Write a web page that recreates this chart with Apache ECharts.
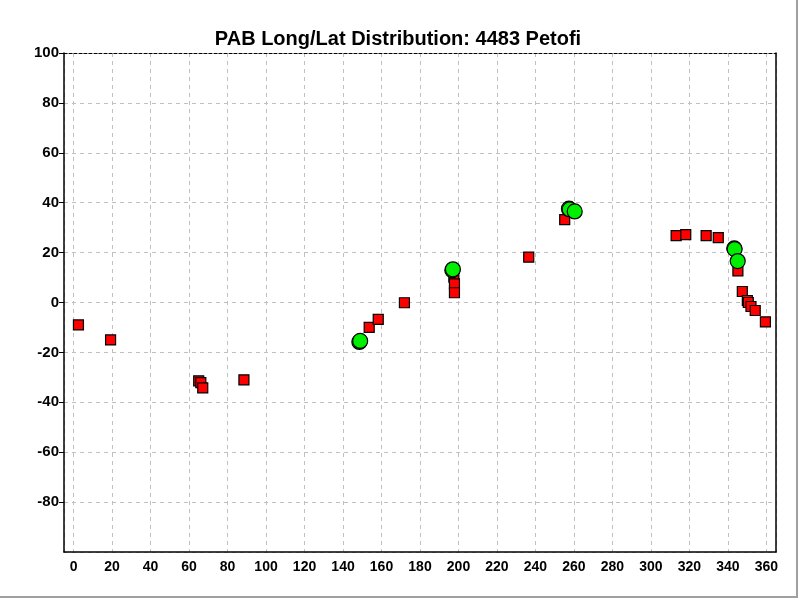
<!DOCTYPE html>
<html>
<head>
<meta charset="utf-8">
<script src="https://cdn.jsdelivr.net/npm/echarts@6/dist/echarts.min.js"></script>
<style>
html,body{margin:0;padding:0;background:#fff;}
#wrap{width:798px;height:598px;box-sizing:border-box;border-right:2px solid #a0a0a0;border-bottom:2px solid #a0a0a0;}
#chart{width:796px;height:596px;}
</style>
</head>
<body>
<div id="wrap"><div id="chart"></div></div>
<script>
const titleText = 'PAB Long/Lat Distribution: 4483 Petofi';
// Red squares: [longitude, latitude]
const redLong = [2.5, 19.2, 65.0, 66.1, 67.1, 88.5, 153.6, 158.3, 171.9, 197.6, 197.9, 197.9, 255.2, 236.5, 313.1, 318.1, 328.7, 335.0, 345.2, 347.5, 350.1, 350.6, 352.0, 354.2, 359.5];
const redLat  = [-9.0, -15.0, -31.4, -32.1, -34.2, -31.0, -10.0, -6.8, -0.1, 10.2, 7.5, 3.9, 33.2, 18.2, 26.8, 27.2, 26.8, 26.0, 12.7, 4.4, 0.8, 0.0, -1.6, -3.2, -7.8];
// Green circles: [longitude, latitude]
const greenLong = [148.5, 148.9, 196.8, 197.1, 257.4, 257.8, 260.4, 343.3, 343.5, 345.1];
const greenLat  = [-15.8, -15.4, 12.9, 13.3, 37.6, 37.3, 36.5, 21.7, 21.4, 16.6];
const yTicks = [100, 80, 60, 40, 20, 0, -20, -40, -60, -80];

const redData = redLong.map((v, i) => [v, redLat[i]]);
const greenData = greenLong.map((v, i) => [v, greenLat[i]]);

const chart = echarts.init(document.getElementById('chart'));
const fam = 'Liberation Sans, Arial, sans-serif';
chart.setOption({
  backgroundColor: '#fff',
  animation: false,
  title: {
    text: titleText, left: 'center', top: 24,
    textStyle: {fontFamily: fam, fontWeight: 'bold', fontSize: 20, color: '#000'}
  },
  grid: {left: 64, right: 20, top: 53, bottom: 44},
  xAxis: [{
    type: 'value', min: -5, max: 365, splitNumber: 18,
    axisLine: {show: true, onZero: false, lineStyle: {color: '#000', width: 1.5}},
    axisTick: {show: false},
    axisLabel: {showMinLabel: false, showMaxLabel: false, margin: 8,
      fontFamily: fam, fontWeight: 'bold', fontSize: 14, color: '#000'},
    splitLine: {show: true, lineStyle: {color: '#c0c0c0', type: [4, 4], width: 1}}
  }, {
    type: 'value', min: -5, max: 365, position: 'top',
    axisLine: {show: true, onZero: false, lineStyle: {color: '#000', type: [3, 2], width: 1}},
    axisTick: {show: false}, axisLabel: {show: false}, splitLine: {show: false}
  }],
  yAxis: [{
    type: 'value', min: -100, max: 100, interval: 20,
    axisLine: {show: true, onZero: false, lineStyle: {color: '#000', width: 1.5}},
    axisTick: {show: true, length: 5, lineStyle: {color: '#000'}},
    axisLabel: {
      margin: 5, showMinLabel: false,
      formatter: v => (yTicks.indexOf(v) >= 0 ? String(v) : ''),
      fontFamily: fam, fontWeight: 'bold', fontSize: 15, color: '#000'
    },
    splitLine: {show: true, lineStyle: {color: '#c0c0c0', type: [4, 4], width: 1}}
  }, {
    type: 'value', min: -100, max: 100, position: 'right',
    axisLine: {show: true, onZero: false, lineStyle: {color: '#000', width: 1.5}},
    axisTick: {show: false}, axisLabel: {show: false}, splitLine: {show: false}
  }],
  series: [{
    type: 'scatter', data: redData, symbol: 'rect', symbolSize: 10,
    itemStyle: {color: '#ff0000', borderColor: '#000', borderWidth: 1.2, opacity: 1},
    z: 3
  }, {
    type: 'scatter', data: greenData, symbol: 'circle', symbolSize: 15,
    itemStyle: {color: '#00ee00', borderColor: '#000', borderWidth: 1.2, opacity: 1},
    z: 4
  }]
});
</script>
</body>
</html>
